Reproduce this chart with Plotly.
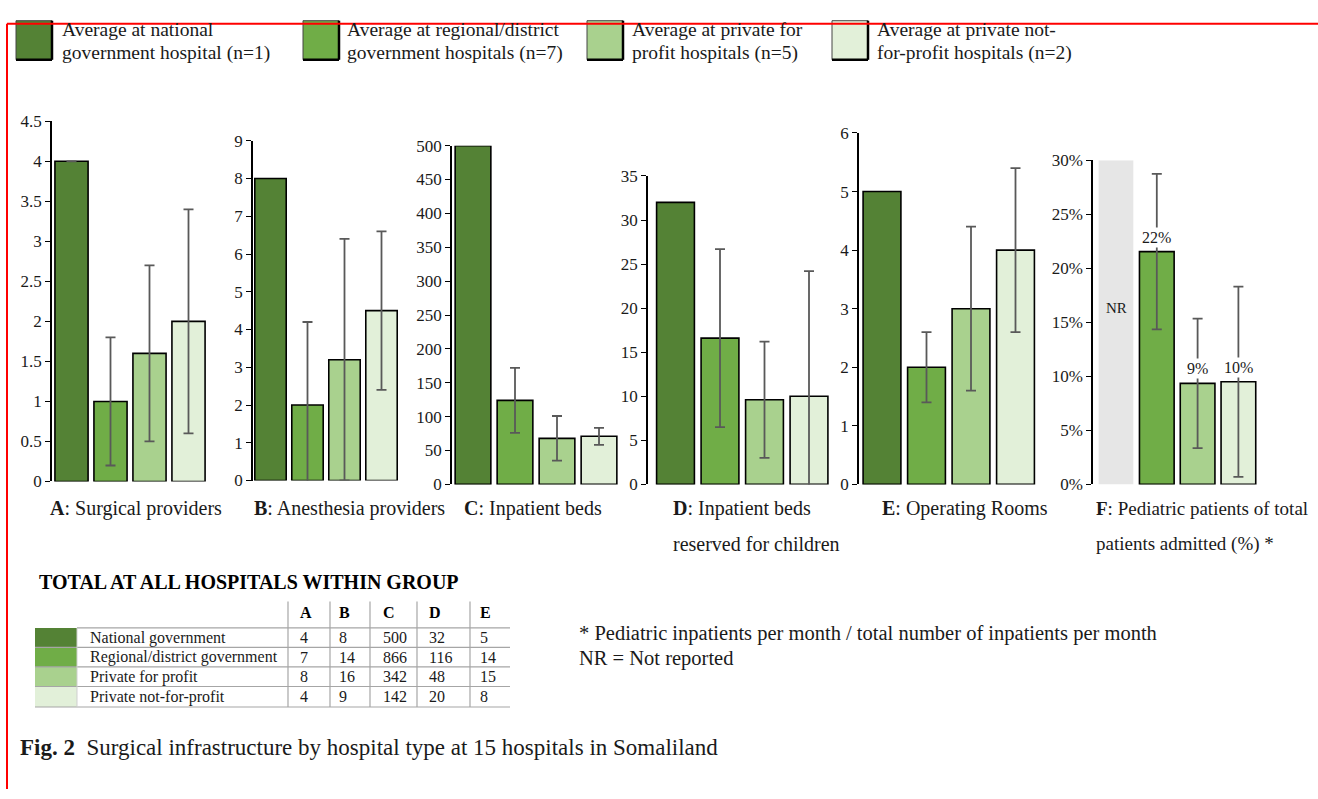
import plotly.graph_objects as go

W, H = 1318, 799

# ---------------- data ----------------
groups = ["National government", "Regional/district government",
          "Private for profit", "Private not-for-profit"]
legend_line1 = ["Average at national", "Average at regional/district",
                "Average at private for", "Average at private not-"]
legend_line2 = ["government hospital (n=1)", "government hospitals (n=7)",
                "profit hospitals (n=5)", "for-profit hospitals (n=2)"]
colors = ["#548235", "#70AD47", "#A9D18E", "#E2F0D9"]

panel_letters = ["A", "B", "C", "D", "E", "F"]
panel_titles = [["Surgical providers"], ["Anesthesia providers"], ["Inpatient beds"],
                ["Inpatient beds", "reserved for children"], ["Operating Rooms"],
                ["Pediatric patients of total", "patients admitted (%) *"]]

surgical_mean = [4, 1, 1.6, 2]
surgical_err = [0, 0.8, 1.1, 1.4]
anesthesia_mean = [8, 2, 3.2, 4.5]
anesthesia_err = [None, 2.2, 3.2, 2.1]
beds_mean = [500, 124, 68, 71]
beds_err = [None, 48, 33, 12.5]
child_beds_mean = [32, 16.6, 9.6, 10]
child_beds_err = [None, 10.1, 6.6, 14.2]
or_mean = [5, 2, 3, 4]
or_err = [None, 0.6, 1.4, 1.4]
ped_share = [None, 0.2155, 0.0935, 0.095]
ped_err = [None, 0.072, 0.060, 0.088]
ped_labels = ["", "22%", "9%", "10%"]
nr_label = "NR"

axis_max = [4.5, 9, 500, 35, 6, 0.30]
axis_dtick = [0.5, 1, 50, 5, 1, 0.05]

table_title = "TOTAL AT ALL HOSPITALS WITHIN GROUP"
table_cols = ["A", "B", "C", "D", "E"]
total_A = [4, 7, 8, 4]
total_B = [8, 14, 16, 9]
total_C = [500, 866, 342, 142]
total_D = [32, 116, 48, 20]
total_E = [5, 14, 15, 8]

footnotes = ["* Pediatric inpatients per month / total number of inpatients per month",
             "NR = Not reported"]
caption_bold = "Fig. 2"
caption_text = "Surgical infrastructure by hospital type at 15 hospitals in Somaliland"

# ---------------- layout geometry (pixels) ----------------
# axis x, first bar centre x, category spacing, y of zero, y of axis top
geom = [
    (52, 71.5, 39.0, 484, 115),
    (253, 270.5, 37.0, 483, 135),
    (452, 473.0, 42.0, 487, 140),
    (648, 675.5, 44.5, 487, 171),
    (859, 882.0, 44.5, 487, 127),
    (1093, 1116.0, 40.8, 487, 155),
]
title_x = [48, 252, 462, 671, 880, 1094]
title_size = [20, 20, 20, 20, 20, 19]

FONT = "Liberation Serif, Times New Roman, serif"
TXT = "#1a1a1a"


def px(x):
    return x / W


def py(y):
    return 1 - y / H


means = [surgical_mean, anesthesia_mean, beds_mean, child_beds_mean, or_mean, ped_share]
errs = [surgical_err, anesthesia_err, beds_err, child_beds_err, or_err, ped_err]

fig = go.Figure()
layout = dict(
    width=W, height=H, margin=dict(l=0, r=0, t=0, b=0),
    paper_bgcolor="white", plot_bgcolor="white", showlegend=False,
    font=dict(family=FONT, color=TXT),
)
annotations = []
shapes = []

for i in range(6):
    ax, c0, sp, y0, yt = geom[i]
    off = (c0 - ax) / sp
    r0 = -off
    r1 = 3.5
    x_end = ax + (r1 - r0) * sp
    xa = "xaxis" if i == 0 else f"xaxis{i+1}"
    ya = "yaxis" if i == 0 else f"yaxis{i+1}"
    xr = "x" if i == 0 else f"x{i+1}"
    yr = "y" if i == 0 else f"y{i+1}"

    vals = list(means[i])
    cols = list(colors)
    lw = [1.6] * 4
    if i == 5:
        # grey "not reported" placeholder spanning the full axis
        vals[0] = axis_max[5]
        cols[0] = "#E6E6E6"
        lw[0] = 0
    fig.add_trace(go.Bar(
        x=list(range(4)), y=vals, width=0.85,
        marker=dict(color=cols, line=dict(color="black", width=lw)),
        xaxis=xr, yaxis=yr, hoverinfo="skip",
    ))
    # error bars only where a spread exists
    ex = [j for j in range(4) if errs[i][j] is not None]
    fig.add_trace(go.Scatter(
        x=ex, y=[means[i][j] for j in ex], mode="markers",
        marker=dict(size=0.1, color="rgba(0,0,0,0)"),
        error_y=dict(type="data", array=[errs[i][j] for j in ex], visible=True,
                     color="#595959", thickness=1.8, width=5),
        xaxis=xr, yaxis=yr, hoverinfo="skip",
    ))
    layout[xa] = dict(domain=[px(ax), px(x_end)], range=[r0, r1], visible=False,
                      anchor=yr, fixedrange=True)
    yax = dict(domain=[py(y0), py(yt)], range=[0, axis_max[i]], dtick=axis_dtick[i],
               tick0=0, showline=True, linecolor="black", linewidth=1.6,
               ticks="outside", ticklen=5, tickwidth=1.4, tickcolor="black",
               showgrid=False, zeroline=False, anchor=xr,
               tickfont=dict(family=FONT, size=17, color=TXT), fixedrange=True)
    if i == 5:
        yax["tickformat"] = ".0%"
    layout[ya] = yax

    # panel titles
    lines = panel_titles[i]
    for k, line in enumerate(lines):
        txt = (f"<b>{panel_letters[i]}</b>: " + line) if k == 0 else line
        annotations.append(dict(
            x=px(title_x[i]), y=py(512 + 36 * k), xref="paper", yref="paper",
            text=txt, showarrow=False, xanchor="left", yanchor="middle",
            font=dict(family=FONT, size=title_size[i], color=TXT)))

# value labels for panel F
for j in range(1, 4):
    annotations.append(dict(
        x=j, y=ped_share[j], xref="x6", yref="y6", text=ped_labels[j],
        showarrow=False, yanchor="bottom", yshift=4, bgcolor="white",
        font=dict(family=FONT, size=16, color=TXT), borderpad=1))
annotations.append(dict(
    x=0, y=0.163, xref="x6", yref="y6", text=nr_label, showarrow=False,
    font=dict(family=FONT, size=15, color=TXT)))

# ---------------- legend ----------------
leg_box_x = [16, 303, 587, 832]
leg_text_x = [60, 345, 630, 875]
for k in range(4):
    bx = leg_box_x[k]
    shapes.append(dict(type="rect", xref="paper", yref="paper",
                       x0=px(bx), x1=px(bx + 36), y0=py(52), y1=py(12),
                       fillcolor=colors[k], line=dict(color="#444", width=1)))
    shapes.append(dict(type="line", xref="paper", yref="paper",
                       x0=px(bx), x1=px(bx + 36), y0=py(52), y1=py(52),
                       line=dict(color="black", width=2.5)))
    shapes.append(dict(type="line", xref="paper", yref="paper",
                       x0=px(bx + 36), x1=px(bx + 36), y0=py(52), y1=py(12),
                       line=dict(color="black", width=2.5)))
    for ln, (txt, yy) in enumerate([(legend_line1[k], 21), (legend_line2[k], 45)]):
        annotations.append(dict(
            x=px(leg_text_x[k]), y=py(yy), xref="paper", yref="paper", text=txt,
            showarrow=False, xanchor="left", yanchor="middle",
            font=dict(family=FONT, size=19.5, color=TXT)))

# ---------------- table ----------------
annotations.append(dict(
    x=px(37), y=py(587), xref="paper", yref="paper", text=f"<b>{table_title}</b>",
    showarrow=False, xanchor="left", yanchor="middle",
    font=dict(family=FONT, size=20, color="black")))

row_y = [634, 654, 674, 694, 715]
vlines = [288, 330, 370, 417, 470]
col_text_x = [298, 337, 381, 427, 478]
GRID = "#A6A6A6"
for r in range(4):
    shapes.append(dict(type="rect", xref="paper", yref="paper",
                       x0=px(35), x1=px(77), y0=py(row_y[r + 1]), y1=py(row_y[r]),
                       fillcolor=colors[r], line=dict(width=0)))
for k, yy in enumerate(row_y):
    shapes.append(dict(type="line", xref="paper", yref="paper",
                       x0=px(77 if k == 0 else 35), x1=px(510), y0=py(yy), y1=py(yy),
                       line=dict(color=GRID, width=1.2)))
shapes.append(dict(type="line", xref="paper", yref="paper",
                   x0=px(77), x1=px(77), y0=py(715), y1=py(634),
                   line=dict(color="#CFCFCF", width=1)))
for vx in vlines:
    shapes.append(dict(type="line", xref="paper", yref="paper",
                       x0=px(vx), x1=px(vx), y0=py(715), y1=py(607),
                       line=dict(color=GRID, width=1.2)))

totals = [total_A, total_B, total_C, total_D, total_E]
for c in range(5):
    annotations.append(dict(
        x=px(col_text_x[c]), y=py(618), xref="paper", yref="paper",
        text=f"<b>{table_cols[c]}</b>", showarrow=False, xanchor="left",
        yanchor="middle", font=dict(family=FONT, size=16, color="black")))
for r in range(4):
    yy = (row_y[r] + row_y[r + 1]) / 2
    annotations.append(dict(
        x=px(88), y=py(yy), xref="paper", yref="paper", text=groups[r],
        showarrow=False, xanchor="left", yanchor="middle",
        font=dict(family=FONT, size=16, color=TXT)))
    for c in range(5):
        annotations.append(dict(
            x=px(col_text_x[c]), y=py(yy), xref="paper", yref="paper",
            text=str(totals[c][r]), showarrow=False, xanchor="left",
            yanchor="middle", font=dict(family=FONT, size=16, color=TXT)))

# ---------------- footnotes & caption ----------------
for k, line in enumerate(footnotes):
    annotations.append(dict(
        x=px(577), y=py(640 + 25 * k), xref="paper", yref="paper", text=line,
        showarrow=False, xanchor="left", yanchor="middle",
        font=dict(family=FONT, size=20.5, color=TXT)))
annotations.append(dict(
    x=px(18), y=py(757), xref="paper", yref="paper",
    text=f"<b>{caption_bold}</b>  {caption_text}", showarrow=False,
    xanchor="left", yanchor="middle", font=dict(family=FONT, size=23, color=TXT)))

# red page-crop border
shapes.append(dict(type="line", xref="paper", yref="paper", x0=px(7), x1=1,
                   y0=py(15), y1=py(15), line=dict(color="#FF0000", width=2)))
shapes.append(dict(type="line", xref="paper", yref="paper", x0=px(7), x1=px(7),
                   y0=py(15), y1=0, line=dict(color="#FF0000", width=2)))

layout["annotations"] = annotations
layout["shapes"] = shapes
fig.update_layout(**layout)
fig.write_html("out.html", config={"displayModeBar": False},
               post_script="document.body.style.margin='0';document.body.style.overflow='hidden';")
